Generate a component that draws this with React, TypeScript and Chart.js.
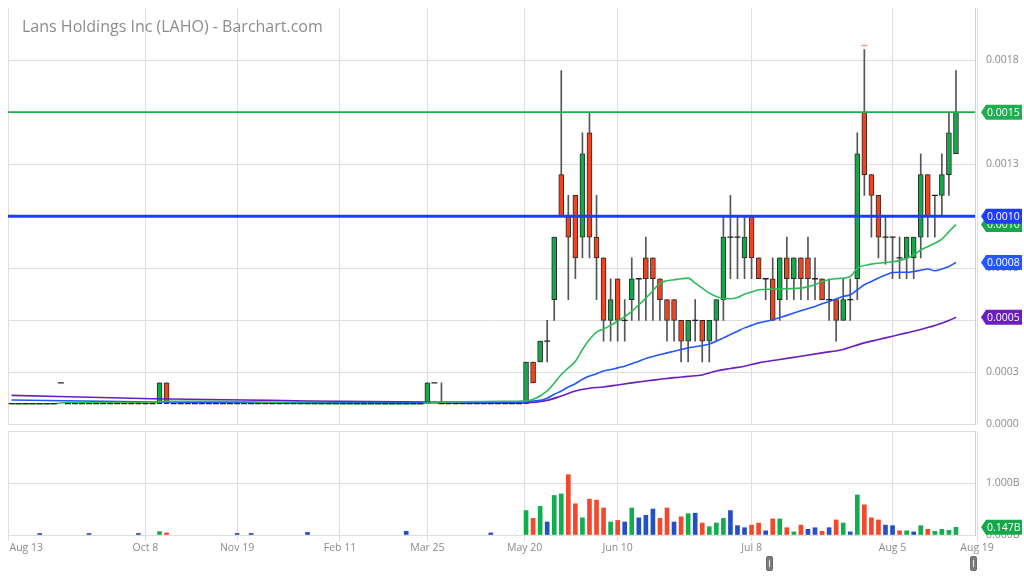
import React, { useEffect, useRef } from 'react';
import { Chart, registerables } from 'chart.js';

Chart.register(...registerables);

// ---------------- data ----------------
const chartTitle = 'Lans Holdings Inc (LAHO) - Barchart.com';
const priceUnit = 0.0001; // OHLC arrays are in units of $0.0001

// one entry per session, index 0 = first bar (Aug 2023), 134 = last bar (Aug 2024)
const opens = [
  1, 1, 1, 1, 1, 1, 1, 2, 1, 1,
  1, 1, 1, 1, 1, 1, 1, 1, 1, 1,
  1, 1, 2, 1, 1, 1, 1, 1, 1, 1,
  1, 1, 1, 1, 1, 1, 1, 1, 1, 1,
  1, 1, 1, 1, 1, 1, 1, 1, 1, 1,
  1, 1, 1, 1, 1, 1, 1, 1, 1, 1,
  2, 1, 1, 1, 1, 1, 1, 1, 1, 1,
  1, 1, 1, 1, 3, 3, 4, 6, 12, 10,
  11, 9, 14, 9, 8, 5, 7, 5, 6, 7,
  8, 8, 7, 6, 6, 5, 4, 5, 5, 4,
  5, 6, 9, 9, 8, 10, 8, 7, 7, 6,
  8, 7, 8, 8, 7, 7, 6, 6, 5, 6,
  7, 15, 12, 11, 9, 9, 8, 8, 8, 9,
  12, 11, 11, 12, 13,
];
const highs = [
  1, 1, 1, 1, 1, 1, 1, 2, 1, 1,
  1, 1, 1, 1, 1, 1, 1, 1, 1, 1,
  1, 2, 2, 1, 1, 1, 1, 1, 1, 1,
  1, 1, 1, 1, 1, 1, 1, 1, 1, 1,
  1, 1, 1, 1, 1, 1, 1, 1, 1, 1,
  1, 1, 1, 1, 1, 1, 1, 1, 1, 2,
  2, 2, 1, 1, 1, 1, 1, 1, 1, 1,
  1, 1, 1, 3, 3, 4, 5, 9, 17, 11,
  11, 14, 15, 11, 8, 7, 7, 6, 8, 7,
  9, 8, 7, 6, 6, 5, 5, 6, 5, 5,
  6, 10, 11, 10, 10, 10, 8, 7, 8, 8,
  9, 8, 8, 9, 8, 7, 7, 6, 7, 7,
  14, 18, 12, 11, 10, 9, 9, 9, 9, 13,
  12, 11, 13, 15, 17,
];
const lows = [
  1, 1, 1, 1, 1, 1, 1, 2, 1, 1,
  1, 1, 1, 1, 1, 1, 1, 1, 1, 1,
  1, 1, 1, 1, 1, 1, 1, 1, 1, 1,
  1, 1, 1, 1, 1, 1, 1, 1, 1, 1,
  1, 1, 1, 1, 1, 1, 1, 1, 1, 1,
  1, 1, 1, 1, 1, 1, 1, 1, 1, 1,
  2, 1, 1, 1, 1, 1, 1, 1, 1, 1,
  1, 1, 1, 1, 2, 3, 3, 5, 10, 6,
  7, 8, 8, 6, 4, 4, 4, 4, 5, 5,
  5, 5, 5, 4, 4, 3, 3, 4, 3, 3,
  4, 5, 7, 7, 7, 7, 7, 6, 5, 5,
  6, 6, 6, 6, 6, 6, 5, 4, 5, 5,
  6, 11, 9, 8, 7.7, 7, 7, 7, 7, 8,
  9, 9, 10, 11, 13,
];
const closes = [
  1, 1, 1, 1, 1, 1, 1, 2, 1, 1,
  1, 1, 1, 1, 1, 1, 1, 1, 1, 1,
  1, 2, 1, 1, 1, 1, 1, 1, 1, 1,
  1, 1, 1, 1, 1, 1, 1, 1, 1, 1,
  1, 1, 1, 1, 1, 1, 1, 1, 1, 1,
  1, 1, 1, 1, 1, 1, 1, 1, 1, 2,
  2, 1, 1, 1, 1, 1, 1, 1, 1, 1,
  1, 1, 1, 3, 2, 4, 4, 9, 10, 9,
  8, 13, 9, 8, 5, 6, 5, 5, 7, 7,
  7, 7, 6, 5, 5, 4, 5, 5, 4, 5,
  6, 9, 9, 9, 9, 8, 7, 7, 5, 8,
  7, 8, 7, 7, 7, 6, 6, 5, 6, 6,
  13, 12, 11, 9, 9, 9, 8, 9, 9, 12,
  10, 11, 12, 14, 15,
];
// volume in billions of shares
const volumesB = [
  0, 0, 0, 0, 0.03, 0, 0, 0, 0, 0,
  0, 0.03, 0, 0, 0, 0, 0, 0, 0.03, 0,
  0, 0.065, 0.04, 0, 0, 0, 0, 0, 0, 0,
  0, 0, 0.03, 0, 0.03, 0, 0, 0, 0, 0,
  0, 0, 0.05, 0, 0, 0, 0, 0, 0, 0,
  0, 0, 0, 0, 0, 0, 0.07, 0, 0, 0,
  0, 0, 0, 0, 0, 0, 0, 0, 0.04, 0,
  0, 0, 0, 0.47, 0.32, 0.55, 0.25, 0.76, 0.79, 1.16,
  0.6, 0.33, 0.69, 0.67, 0.52, 0.25, 0.28, 0.25, 0.52, 0.33,
  0.38, 0.5, 0.32, 0.52, 0.25, 0.35, 0.41, 0.42, 0.23, 0.16,
  0.23, 0.32, 0.47, 0.18, 0.14, 0.19, 0.23, 0.08, 0.31, 0.31,
  0.14, 0.06, 0.19, 0.11, 0.14, 0.07, 0.14, 0.29, 0.23, 0.06,
  0.77, 0.58, 0.33, 0.29, 0.19, 0.18, 0.08, 0.08, 0.06, 0.18,
  0.11, 0.07, 0.11, 0.09, 0.147,
];

// moving averages : bar index -> price
const fastMaIdx = [0, 6, 8, 20, 22, 30, 38, 58, 60, 72, 73, 76, 78, 79, 80, 81, 82, 83, 84, 85, 86, 87, 88, 89, 90, 91, 92, 93, 94, 95, 96, 97, 98, 99, 100, 101, 102, 103, 104, 105, 106, 108, 110, 112, 114, 115, 117, 119, 120, 122, 124, 126, 128, 129, 131, 132, 133, 134];
const fastMaVals = [0.0001, 0.0001, 0.000106, 0.000106, 0.000112, 0.000112, 0.000104, 0.0001, 0.000106, 0.000112, 0.000113, 0.000161, 0.00024, 0.000272, 0.000304, 0.00036, 0.000408, 0.000444, 0.000459, 0.000476, 0.000496, 0.000518, 0.000543, 0.000575, 0.000607, 0.000642, 0.000679, 0.00069, 0.000695, 0.0007, 0.000703, 0.000679, 0.000655, 0.000631, 0.000615, 0.000604, 0.000604, 0.00061, 0.000626, 0.000636, 0.000647, 0.00065, 0.000652, 0.000655, 0.000671, 0.000687, 0.0007, 0.000711, 0.00075, 0.00077, 0.000778, 0.000787, 0.000814, 0.000838, 0.00087, 0.00089, 0.000926, 0.00096];
const midMaIdx = [0, 10, 20, 40, 72, 73, 74, 75, 76, 77, 78, 79, 80, 81, 82, 83, 84, 85, 86, 87, 88, 89, 90, 91, 92, 93, 94, 95, 96, 97, 98, 99, 100, 101, 102, 103, 104, 105, 106, 108, 110, 112, 114, 116, 118, 119, 120, 121, 122, 123, 124, 125, 126, 127, 128, 129, 130, 131, 132, 133, 134];
const midMaVals = [0.000118, 0.000113, 0.000108, 0.000105, 0.000104, 0.00011, 0.000113, 0.000116, 0.000126, 0.000145, 0.000161, 0.00018, 0.000196, 0.000217, 0.000233, 0.000244, 0.000257, 0.000264, 0.000272, 0.00028, 0.000292, 0.000304, 0.000317, 0.000327, 0.000336, 0.000344, 0.000352, 0.00036, 0.000368, 0.000373, 0.000379, 0.000387, 0.0004, 0.000416, 0.000432, 0.000448, 0.000464, 0.000476, 0.000488, 0.000503, 0.000524, 0.000546, 0.000567, 0.000591, 0.000615, 0.000623, 0.000647, 0.000671, 0.000687, 0.000703, 0.000718, 0.00073, 0.000731, 0.000731, 0.000735, 0.000741, 0.000747, 0.000738, 0.000747, 0.000759, 0.000778];
const slowMaIdx = [0, 20, 33, 42, 59, 72, 73, 76, 78, 80, 82, 84, 86, 88, 90, 92, 94, 96, 98, 100, 102, 104, 106, 109, 112, 115, 118, 119, 121, 123, 125, 127, 129, 131, 133, 134];
const slowMaVals = [0.00014, 0.000124, 0.000118, 0.000113, 0.000108, 0.000105, 0.000105, 0.000116, 0.000137, 0.000161, 0.000174, 0.00018, 0.00019, 0.0002, 0.000209, 0.000217, 0.000225, 0.000231, 0.000238, 0.000257, 0.000269, 0.00028, 0.000296, 0.000312, 0.000328, 0.000344, 0.00036, 0.000371, 0.000392, 0.000408, 0.000424, 0.00044, 0.000456, 0.000475, 0.000499, 0.000515];

const resistanceLevel = 0.0015;
const supportLevel = 0.001;
const highMarkerIdx = 121;
const highMarkerValue = 0.00182;

const xTickIdx = [-0.5, 19, 32, 46.6, 59, 72.8, 86, 105, 125, 137];
const xTickLabels = ['Aug 13', 'Oct 8', 'Nov 19', 'Feb 11', 'Mar 25', 'May 20', 'Jun 10', 'Jul 8', 'Aug 5', 'Aug 19'];
const priceTicks = [0, 0.00025, 0.0005, 0.00075, 0.001, 0.00125, 0.0015, 0.00175];
const priceTickLabels = ['0.0000', '0.0003', '0.0005', '0.0008', '0.0010', '0.0013', '0.0015', '0.0018'];
const volumeTicks = [0, 1e9, 2e9];
const volumeTickLabels = ['0.000B', '1.000B', ''];

// ---------------- styles ----------------
const FONT = '"Open Sans", "Noto Sans", sans-serif';
const GRID = '#dedede';
const BORDER = '#cfcfcf';
const LABEL = '#8a8a8a';
const UP = '#14a84b';
const DOWN = '#f0431f';
const VOL_UP = '#10ae4e';
const VOL_DOWN = '#f5472b';
const VOL_FLAT = '#2450c4';
const FAST = '#2dbb58';
const MID = '#2457fb';
const SLOW = '#6a1dc0';
const LEVEL_GREEN = '#1fae4f';
const LEVEL_BLUE = '#1e3cff';
const X_MIN = -0.5;
const X_MAX = 136.7;

const idxs = closes.map((_, i) => i);

function drawTag(ctx: CanvasRenderingContext2D, left: number, y: number, color: string, text: string) {
  const tip = left + 6;
  ctx.beginPath();
  ctx.moveTo(tip, y);
  ctx.lineTo(tip + 5, y - 7.5);
  ctx.lineTo(1022, y - 7.5);
  ctx.lineTo(1022, y + 7.5);
  ctx.lineTo(tip + 5, y + 7.5);
  ctx.closePath();
  ctx.fillStyle = color;
  ctx.fill();
  ctx.fillStyle = '#ffffff';
  ctx.font = `10.5px ${FONT}`;
  ctx.textAlign = 'left';
  ctx.textBaseline = 'middle';
  ctx.fillText(text, tip + 6, y + 0.5);
}

function xScale(height: number, ticks: boolean) {
  return {
    type: 'linear',
    min: X_MIN,
    max: X_MAX,
    offset: false,
    grid: { color: GRID, offset: false, drawTicks: ticks, tickLength: 6, tickColor: GRID },
    border: { display: false },
    ticks: { display: false, autoSkip: false },
    afterBuildTicks: (s: any) => {
      s.ticks = xTickIdx.map((v) => ({ value: v }));
    },
    afterFit: (s: any) => {
      s.height = height;
    },
  };
}

function yScale(min: number, max: number, values: number[], labels: string[]) {
  return {
    type: 'linear',
    position: 'right',
    min,
    max,
    grid: { color: GRID, drawTicks: true, tickLength: 11, tickColor: 'rgba(0,0,0,0)' },
    border: { display: true, color: BORDER },
    ticks: {
      color: LABEL,
      font: { family: FONT, size: 10.5, lineHeight: 0.1 },
      padding: 0,
      autoSkip: false,
      callback: (_v: any, i: number) => labels[i],
    },
    afterBuildTicks: (s: any) => {
      s.ticks = values.map((v) => ({ value: v }));
    },
    afterFit: (s: any) => {
      s.width = 49;
    },
  };
}

function line(idx: number[], vals: number[]) {
  return idx.map((x, k) => ({ x, y: vals[k] }));
}

export default function App() {
  const priceRef = useRef<HTMLCanvasElement>(null);
  const volRef = useRef<HTMLCanvasElement>(null);

  useEffect(() => {
    Chart.defaults.font.family = FONT;

    const wickData = idxs
      .filter((i) => highs[i] > lows[i])
      .map((i) => ({ x: i, y: [lows[i] * priceUnit, highs[i] * priceUnit] }));
    const bodyIdx = idxs.filter((i) => opens[i] !== closes[i]);
    const bodyData = bodyIdx.map((i) => ({ x: i, y: [opens[i] * priceUnit, closes[i] * priceUnit] }));
    const bodyColors = bodyIdx.map((i) => (closes[i] > opens[i] ? UP : DOWN));
    const dojiData = idxs.filter((i) => opens[i] === closes[i]).map((i) => ({ x: i, y: closes[i] * priceUnit }));

    const priceOverlay = {
      id: 'priceOverlay',
      afterDraw(chart: any) {
        const { ctx, chartArea, scales } = chart;
        const y = scales.y;
        ctx.save();
        ctx.font = `16px ${FONT}`;
        ctx.fillStyle = '#8c8c8c';
        ctx.textAlign = 'left';
        ctx.textBaseline = 'alphabetic';
        ctx.fillText(chartTitle, 22, 31.5);
        const tags = [
          { v: fastMaVals[fastMaVals.length - 1], c: UP },
          { v: slowMaVals[slowMaVals.length - 1], c: SLOW },
          { v: midMaVals[midMaVals.length - 1], c: MID },
          { v: resistanceLevel, c: LEVEL_GREEN },
          { v: supportLevel, c: LEVEL_BLUE },
        ];
        tags.forEach((t) => drawTag(ctx, chartArea.right, y.getPixelForValue(t.v), t.c, t.v.toFixed(4)));
        ctx.restore();
      },
    };

    const pc = new Chart(priceRef.current as HTMLCanvasElement, {
      type: 'bar',
      data: {
        datasets: [
          { type: 'bar', data: wickData as any, backgroundColor: '#555555', barThickness: 1, grouped: false, order: 10 },
          {
            type: 'bar',
            data: bodyData as any,
            backgroundColor: bodyColors,
            borderColor: '#2b2b2b',
            borderWidth: 1,
            borderSkipped: false,
            barThickness: 5,
            grouped: false,
            order: 9,
          },
          { type: 'line', data: line(slowMaIdx, slowMaVals), borderColor: SLOW, borderWidth: 1.6, pointRadius: 0, cubicInterpolationMode: 'monotone', order: 6 },
          { type: 'line', data: line(midMaIdx, midMaVals), borderColor: MID, borderWidth: 1.6, pointRadius: 0, cubicInterpolationMode: 'monotone', order: 5 },
          { type: 'line', data: line(fastMaIdx, fastMaVals), borderColor: FAST, borderWidth: 1.6, pointRadius: 0, cubicInterpolationMode: 'monotone', order: 4 },
          {
            type: 'line',
            data: dojiData as any,
            showLine: false,
            pointStyle: 'line',
            pointRadius: 3,
            pointBorderColor: '#222222',
            pointBorderWidth: 1.3,
            order: 3,
          },
          { type: 'line', data: [{ x: X_MIN, y: resistanceLevel }, { x: X_MAX, y: resistanceLevel }], borderColor: LEVEL_GREEN, borderWidth: 1.6, pointRadius: 0, order: 2 },
          { type: 'line', data: [{ x: X_MIN, y: supportLevel }, { x: X_MAX, y: supportLevel }], borderColor: LEVEL_BLUE, borderWidth: 3, pointRadius: 0, order: 1 },
          {
            type: 'line',
            data: [{ x: highMarkerIdx, y: highMarkerValue }],
            showLine: false,
            pointStyle: 'line',
            pointRadius: 3,
            pointBorderColor: '#f39a84',
            pointBorderWidth: 1.5,
            order: 0,
          },
        ],
      } as any,
      options: {
        animation: false,
        responsive: false,
        events: [],
        layout: { padding: { top: 8, left: 8, right: 0, bottom: 3 } },
        plugins: { legend: { display: false }, tooltip: { enabled: false } },
        scales: {
          x: xScale(0, false) as any,
          y: yScale(0, 0.002, priceTicks, priceTickLabels) as any,
        },
      },
      plugins: [priceOverlay],
    } as any);

    const volData = idxs.filter((i) => volumesB[i] > 0).map((i) => ({ x: i, y: volumesB[i] * 1e9 }));
    const volColors = idxs
      .filter((i) => volumesB[i] > 0)
      .map((i) => (i === 0 || closes[i] === closes[i - 1] ? VOL_FLAT : closes[i] > closes[i - 1] ? VOL_UP : VOL_DOWN));
    const lastVol = volumesB[volumesB.length - 1];

    const volOverlay = {
      id: 'volOverlay',
      afterDraw(chart: any) {
        const { ctx, chartArea, scales } = chart;
        ctx.save();
        ctx.font = `10.5px ${FONT}`;
        ctx.fillStyle = LABEL;
        ctx.textBaseline = 'middle';
        xTickIdx.forEach((v, k) => {
          const px = scales.x.getPixelForValue(v);
          ctx.textAlign = k === 0 ? 'left' : 'center';
          ctx.fillText(xTickLabels[k], k === 0 ? px + 1.5 : px, chartArea.bottom + 13.5);
        });
        drawTag(ctx, chartArea.right, scales.y.getPixelForValue(lastVol * 1e9), UP, lastVol.toFixed(3) + 'B');
        ctx.restore();
      },
    };

    const vc = new Chart(volRef.current as HTMLCanvasElement, {
      type: 'bar',
      data: {
        datasets: [
          { type: 'bar', data: volData as any, backgroundColor: volColors, barThickness: 4, grouped: false },
        ],
      } as any,
      options: {
        animation: false,
        responsive: false,
        events: [],
        layout: { padding: { top: 1, left: 8, right: 0, bottom: 0 } },
        plugins: { legend: { display: false }, tooltip: { enabled: false } },
        scales: {
          x: xScale(41, true) as any,
          y: yScale(0, 2e9, volumeTicks, volumeTickLabels) as any,
        },
      },
      plugins: [volOverlay],
    } as any);

    return () => {
      pc.destroy();
      vc.destroy();
    };
  }, []);

  const handle = (left: number) => (
    <div
      style={{
        position: 'absolute',
        left,
        top: 556,
        width: 7,
        height: 15,
        background: '#7d7d7d',
        borderRadius: 2,
        boxSizing: 'border-box',
        border: '1px solid #6a6a6a',
      }}
    >
      <div style={{ position: 'absolute', left: 2, top: 3, width: 1, height: 7, background: '#e8e8e8' }} />
    </div>
  );

  return (
    <div style={{ position: 'fixed', left: 0, top: 0, width: 1024, height: 576, background: '#ffffff', overflow: 'hidden' }}>
      <canvas ref={priceRef} width={1024} height={430} style={{ position: 'absolute', left: 0, top: 0, width: 1024, height: 430 }} />
      <canvas ref={volRef} width={1024} height={146} style={{ position: 'absolute', left: 0, top: 430, width: 1024, height: 146 }} />
      {handle(766)}
      {handle(970)}
    </div>
  );
}
